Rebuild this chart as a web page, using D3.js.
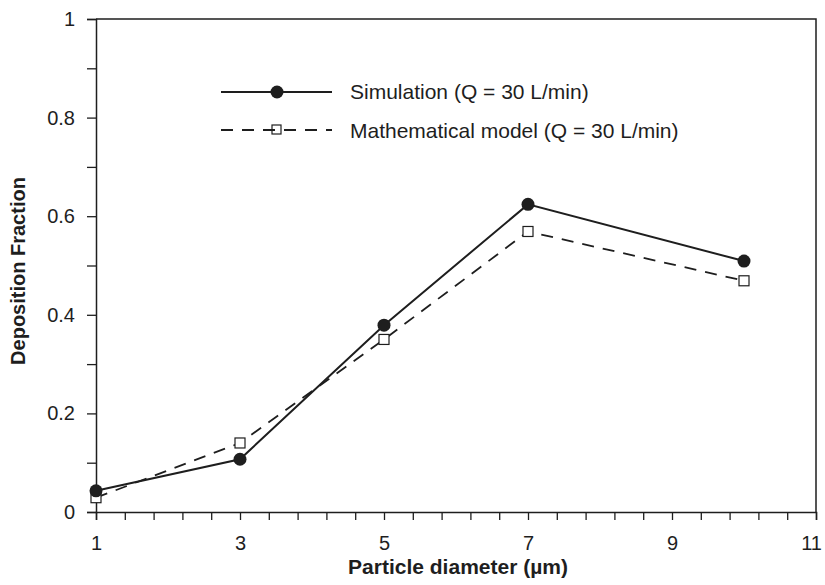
<html>
<head>
<script src="https://cdn.jsdelivr.net/npm/d3@7"></script>
<style>
    body { margin: 0; background: white; font-family: Arial, "Liberation Sans", Helvetica, sans-serif; }
    svg { display: block; }
</style>
</head>
<body>
<svg id="chart"></svg>
<script>
    // data
    let diameters = [1, 3, 5, 7, 10];
    let simulation = [0.043, 0.107, 0.379, 0.624, 0.509];
    let model = [0.029, 0.140, 0.350, 0.569, 0.469];
    let xTickLabels = [1, 3, 5, 7, 9, 11];
    let yTickLabels = [0, 0.2, 0.4, 0.6, 0.8, 1];
    let seriesNames = ["Simulation (Q = 30 L/min)", "Mathematical model (Q = 30 L/min)"];

    let width = 825, height = 585;
    let margin = { top: 19, right: 9, bottom: 73, left: 96 };
    let ink = "#1e1e1e";

    let svg = d3.select("#chart").attr("width", width).attr("height", height);

    let x = d3.scaleLinear().domain([1, 11]).range([margin.left, width - margin.right]);
    let y = d3.scaleLinear().domain([0, 1]).range([height - margin.bottom, margin.top]);

    // frame: top and right borders
    svg.append("path")
        .attr("d", `M${x(1)},${y(1)}H${x(11)}V${y(0)}`)
        .attr("fill", "none").attr("stroke", ink).attr("stroke-width", 1.5);

    // x axis, minor ticks every 0.4
    let xAxis = d3.axisBottom(x)
        .tickValues(d3.range(0, 26).map(i => 1 + i * 0.4))
        .tickSize(8)
        .tickFormat(d => {
            let r = Math.round(d * 10) / 10;
            return xTickLabels.includes(r) ? r : "";
        });
    let gx = svg.append("g").attr("transform", `translate(0,${y(0)})`).call(xAxis);

    // y axis, minor ticks every 0.1
    let yAxis = d3.axisLeft(y)
        .tickValues(d3.range(0, 11).map(i => i / 10))
        .tickSize(9)
        .tickFormat(d => {
            let r = Math.round(d * 10) / 10;
            return yTickLabels.includes(r) ? r : "";
        });
    let gy = svg.append("g").attr("transform", `translate(${x(1)},0)`).call(yAxis);

    [gx, gy].forEach(g => {
        g.select(".domain").attr("stroke", ink).attr("stroke-width", 1.5);
        g.selectAll(".tick line").attr("stroke", ink).attr("stroke-width", 1.3);
        g.selectAll(".tick text")
            .attr("fill", ink)
            .style("font-size", "20px")
            .style("font-family", "Arial, 'Liberation Sans', sans-serif");
    });
    gx.selectAll(".tick text").attr("y", 38).attr("dy", 0)
        .attr("x", d => Math.round(d * 10) / 10 === 11 ? -5 : 0);
    gy.selectAll(".tick text").attr("x", -21);

    // axis titles
    svg.append("text")
        .attr("x", 458).attr("y", 574)
        .attr("text-anchor", "middle")
        .attr("fill", ink)
        .style("font-size", "21px").style("font-weight", "bold")
        .text("Particle diameter (\u00b5m)");

    svg.append("text")
        .attr("transform", "translate(25,271) rotate(-90)")
        .attr("text-anchor", "middle")
        .attr("fill", ink)
        .style("font-size", "20px").style("font-weight", "bold")
        .text("Deposition Fraction");

    // series lines
    let line = d3.line().x(d => x(d[0])).y(d => y(d[1]));
    let simPts = diameters.map((d, i) => [d, simulation[i]]);
    let modPts = diameters.map((d, i) => [d, model[i]]);

    svg.append("path").datum(modPts)
        .attr("d", line).attr("fill", "none")
        .attr("stroke", ink).attr("stroke-width", 1.8)
        .attr("stroke-dasharray", "12,9");

    svg.append("path").datum(simPts)
        .attr("d", line).attr("fill", "none")
        .attr("stroke", ink).attr("stroke-width", 2);

    // markers
    svg.selectAll(".sq").data(modPts).enter().append("rect")
        .attr("x", d => x(d[0]) - 5).attr("y", d => y(d[1]) - 5)
        .attr("width", 10).attr("height", 10)
        .attr("fill", "white").attr("stroke", ink).attr("stroke-width", 1.2);

    svg.selectAll(".dot").data(simPts).enter().append("circle")
        .attr("cx", d => x(d[0])).attr("cy", d => y(d[1]))
        .attr("r", 6.5).attr("fill", ink);

    // legend
    let legend = svg.append("g");
    legend.append("line")
        .attr("x1", 221).attr("x2", 332).attr("y1", 92).attr("y2", 92)
        .attr("stroke", ink).attr("stroke-width", 2);
    legend.append("circle").attr("cx", 277).attr("cy", 92).attr("r", 6.5).attr("fill", ink);
    legend.append("line")
        .attr("x1", 221).attr("x2", 332).attr("y1", 130).attr("y2", 130)
        .attr("stroke", ink).attr("stroke-width", 1.8)
        .attr("stroke-dasharray", "12,9");
    legend.append("rect")
        .attr("x", 272).attr("y", 125).attr("width", 9).attr("height", 9)
        .attr("fill", "none").attr("stroke", ink).attr("stroke-width", 1.2);

    legend.selectAll("text").data(seriesNames).enter().append("text")
        .attr("x", 350).attr("y", (d, i) => 92 + i * 39)
        .attr("dy", "0.35em")
        .attr("fill", ink)
        .style("font-size", "21px")
        .text(d => d);
</script>
</body>
</html>
